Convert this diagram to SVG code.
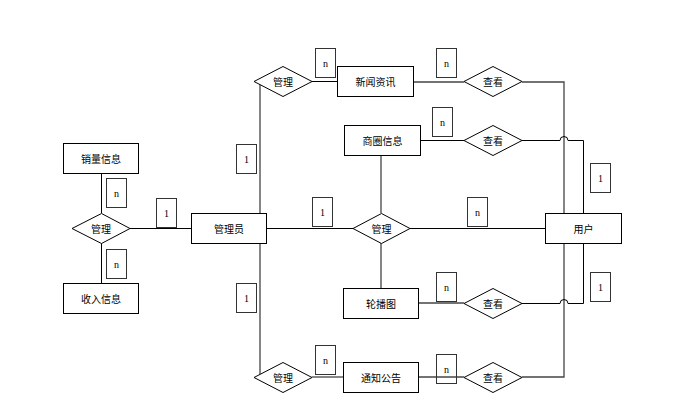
<svg xmlns="http://www.w3.org/2000/svg" width="681" height="403" viewBox="0 0 681 403">
<style>
.ent{fill:#fff;stroke:#000;stroke-width:1}
.rel{fill:#fff;stroke:#000;stroke-width:1}
.lbl{fill:none;stroke:#333;stroke-width:1}
.t{font-family:"Noto Sans CJK SC","Noto Sans",sans-serif;font-size:10px;fill:#000;text-anchor:middle;dominant-baseline:central}
.c{font-family:"Liberation Serif",serif;font-size:10px;fill:#000;text-anchor:middle;dominant-baseline:central}
.ln{fill:none;stroke:#000;stroke-width:1}
.lg{fill:none;stroke:#444;stroke-width:1.3}
</style>
<rect width="681" height="403" fill="#fff"/>
<g id="connectors">
<path class="ln" d="M101.5,173 V213"/>
<path class="ln" d="M101.5,243 V283"/>
<path class="ln" d="M130,228.5 H191"/>
<path class="ln" d="M266,228.5 H353"/>
<path class="ln" d="M410,228.5 H545"/>
<path class="lg" d="M260,84 V374"/>
<path class="ln" d="M312,81.5 H337"/>
<path class="lg" d="M413,82 H464"/>
<path class="lg" d="M522,82 H564 V377 H522"/>
<path class="lg" d="M418,377 H464"/>
<path class="lg" d="M312,377 H343"/>
<path class="ln" d="M420,140.5 H464"/>
<path class="ln" d="M522,140.5 H560 a4,4 0 0 1 8,0 H583.5 V303.5 H568 a4,4 0 0 0 -8,0 H522"/>
<path class="lg" d="M418,303 H464"/>
<path class="lg" d="M381,155 V213"/>
<path class="lg" d="M381,243 V288"/>
</g>
<g id="label-n1"><rect class="lbl" x="106.5" y="178.5" width="20" height="29"/><text class="c" x="116.5" y="193">n</text></g>
<g id="label-n2"><rect class="lbl" x="106.5" y="249.5" width="20" height="29"/><text class="c" x="116.5" y="264">n</text></g>
<g id="label-11"><rect class="lbl" x="156.5" y="198.5" width="20" height="29"/><text class="c" x="166.5" y="213">1</text></g>
<g id="label-12"><rect class="lbl" x="236.5" y="144.5" width="20" height="29"/><text class="c" x="246.5" y="159">1</text></g>
<g id="label-13"><rect class="lbl" x="236.5" y="283.5" width="20" height="29"/><text class="c" x="246.5" y="298">1</text></g>
<g id="label-n3"><rect class="lbl" x="315.5" y="48.5" width="20" height="29"/><text class="c" x="325.5" y="63">n</text></g>
<g id="label-n4"><rect class="lbl" x="436.5" y="48.5" width="20" height="29"/><text class="c" x="446.5" y="63">n</text></g>
<g id="label-n5"><rect class="lbl" x="432.5" y="107.5" width="20" height="29"/><text class="c" x="442.5" y="122">n</text></g>
<g id="label-14"><rect class="lbl" x="312.5" y="197.5" width="20" height="29"/><text class="c" x="322.5" y="212">1</text></g>
<g id="label-n6"><rect class="lbl" x="467.5" y="197.5" width="20" height="29"/><text class="c" x="477.5" y="212">n</text></g>
<g id="label-15"><rect class="lbl" x="590.5" y="163.5" width="20" height="29"/><text class="c" x="600.5" y="178">1</text></g>
<g id="label-n7"><rect class="lbl" x="436.5" y="272.5" width="20" height="29"/><text class="c" x="446.5" y="287">n</text></g>
<g id="label-16"><rect class="lbl" x="590.5" y="272.5" width="20" height="29"/><text class="c" x="600.5" y="287">1</text></g>
<g id="label-n8"><rect class="lbl" x="315.5" y="345.5" width="20" height="29"/><text class="c" x="325.5" y="360">n</text></g>
<g id="label-n9"><rect class="lbl" x="436.5" y="354.5" width="20" height="29"/><text class="c" x="446.5" y="369">n</text></g>
<g id="sales"><rect class="ent" x="63.5" y="143.5" width="75" height="30"/><text class="t" x="101" y="158.5">销量信息</text></g>
<g id="income"><rect class="ent" x="63.5" y="283.5" width="75" height="30"/><text class="t" x="101" y="298.5">收入信息</text></g>
<g id="admin"><rect class="ent" x="191.5" y="213.5" width="75" height="30"/><text class="t" x="229" y="228.5">管理员</text></g>
<g id="news"><rect class="ent" x="337.5" y="66.5" width="76" height="30"/><text class="t" x="375.5" y="81.5">新闻资讯</text></g>
<g id="district"><rect class="ent" x="344.5" y="125.5" width="76" height="30"/><text class="t" x="382.5" y="140.5">商圈信息</text></g>
<g id="carousel"><rect class="ent" x="343.5" y="288.5" width="75" height="30"/><text class="t" x="381" y="303.5">轮播图</text></g>
<g id="notice"><rect class="ent" x="343.5" y="362.5" width="75" height="30"/><text class="t" x="381" y="377.5">通知公告</text></g>
<g id="user"><rect class="ent" x="545.5" y="213.5" width="76" height="30"/><text class="t" x="583.5" y="228.5">用户</text></g>
<g id="manage1"><polygon class="rel" points="72,228.5 101.5,213.5 130,228.5 101.5,243.5"/><text class="t" x="101" y="228.5">管理</text></g>
<g id="manage2"><polygon class="rel" points="254,81.5 283,66.5 312,81.5 283,96.5"/><text class="t" x="283" y="81.5">管理</text></g>
<g id="manage3"><polygon class="rel" points="353,228.5 381.5,213.5 410,228.5 381.5,243.5"/><text class="t" x="381.5" y="228.5">管理</text></g>
<g id="manage4"><polygon class="rel" points="254,377.5 283,362.5 312,377.5 283,392.5"/><text class="t" x="283" y="377.5">管理</text></g>
<g id="view1"><polygon class="rel" points="464,81.5 493,66.5 522,81.5 493,96.5"/><text class="t" x="493" y="81.5">查看</text></g>
<g id="view2"><polygon class="rel" points="464,140.5 493,125.5 522,140.5 493,155.5"/><text class="t" x="493" y="140.5">查看</text></g>
<g id="view3"><polygon class="rel" points="464,303.5 493,288.5 522,303.5 493,318.5"/><text class="t" x="493" y="303.5">查看</text></g>
<g id="view4"><polygon class="rel" points="464,377.5 493,362.5 522,377.5 493,392.5"/><text class="t" x="493" y="377.5">查看</text></g>
</svg>
